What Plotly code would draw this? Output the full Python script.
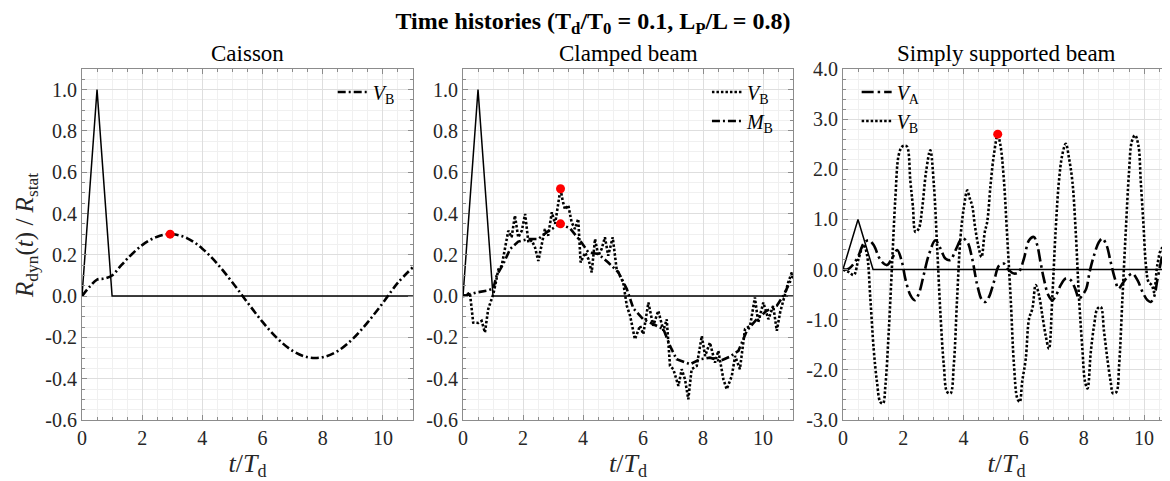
import plotly.graph_objects as go

# load pulse (triangle) shared by all panels
load_t = [0, 0.5, 1.0, 11.0]
load_y = [0, 1.0, 0, 0]

# Caisson: V_B
caisson_t = [0, 0.25, 0.5, 0.75, 1.0, 1.25, 1.5, 2.0, 2.5, 3.0, 3.5, 4.0, 4.5, 5.0, 5.5,
             6.0, 6.5, 7.0, 7.5, 8.0, 8.5, 9.0, 9.5, 10.0, 10.5, 11.0]
caisson_vb = [0, 0.045, 0.08, 0.085, 0.10, 0.14, 0.18, 0.247, 0.288, 0.300, 0.280, 0.230, 0.156,
              0.066, -0.031, -0.125, -0.206, -0.265, -0.296, -0.296, -0.266, -0.207, -0.126,
              -0.033, 0.065, 0.14]
caisson_peak = ([2.93], [0.30])

# Clamped beam: V_B
clamped_vb_t = [0, 0.23, 0.34, 0.51, 0.62, 0.73, 0.84, 1.01, 1.07, 1.18, 1.29, 1.4, 1.51, 1.62,
                1.73, 1.84, 1.96, 2.07, 2.18, 2.29, 2.4, 2.51, 2.62, 2.73, 2.84, 2.96, 3.07,
                3.25, 3.32, 3.4, 3.51, 3.62, 3.73, 3.84, 3.92, 4.07, 4.18, 4.29, 4.4, 4.51,
                4.62, 4.73, 4.84, 4.99, 5.12, 5.23, 5.34, 5.46, 5.57, 5.73, 5.9, 6.01, 6.18,
                6.34, 6.51, 6.68, 6.79, 6.9, 7.01, 7.18, 7.29, 7.4, 7.51, 7.62, 7.79, 7.96,
                8.07, 8.23, 8.4, 8.51, 8.68, 8.79, 8.96, 9.07, 9.23, 9.4, 9.57, 9.73, 9.84,
                10.01, 10.18, 10.34, 10.46, 10.57, 10.68, 10.84, 10.96, 11.0]
clamped_vb = [0, 0.015, -0.128, -0.13, -0.12, -0.176, -0.063, 0.01, 0.05, 0.13, 0.147, 0.236,
              0.317, 0.285, 0.39, 0.285, 0.317, 0.398, 0.26, 0.27, 0.236, 0.17, 0.244, 0.325,
              0.293, 0.406, 0.35, 0.52, 0.463, 0.42, 0.44, 0.358, 0.325, 0.374, 0.163, 0.21,
              0.18, 0.115, 0.277, 0.196, 0.228, 0.285, 0.196, 0.285, 0.131, 0.099, 0.066,
              -0.047, -0.095, -0.209, -0.144, -0.184, -0.031, -0.144, -0.071, -0.168, -0.112,
              -0.338, -0.354, -0.435, -0.354, -0.403, -0.5, -0.354, -0.338, -0.193, -0.29,
              -0.225, -0.322, -0.265, -0.403, -0.451, -0.387, -0.29, -0.354, -0.16, -0.144,
              -0.006, -0.128, -0.031, -0.112, -0.047, -0.168, -0.079, -0.015, 0.066, 0.115,
              0.09]

# Clamped beam: M_B
clamped_mb_t = [0, 0.46, 0.79, 1.01, 1.12, 1.34, 1.57, 1.84, 2.18, 2.51, 2.79, 3.23, 3.57, 3.9,
                4.18, 4.51, 4.84, 5.18, 5.46, 5.68, 6.01, 6.34, 6.68, 6.9, 7.12, 7.57, 7.9,
                8.23, 8.57, 8.9, 9.18, 9.46, 9.79, 10.12, 10.46, 10.68, 10.9, 11.0]
clamped_mb = [0, 0.018, 0.026, 0.037, 0.099, 0.155, 0.228, 0.264, 0.277, 0.277, 0.309, 0.35,
              0.328, 0.269, 0.212, 0.204, 0.163, 0.115, 0.034, -0.06, -0.112, -0.136, -0.16,
              -0.241, -0.306, -0.33, -0.306, -0.298, -0.314, -0.293, -0.265, -0.168, -0.112,
              -0.071, -0.047, 0.002, 0.074, 0.099]
clamped_peaks = ([3.25, 3.25], [0.52, 0.35])

# Simply supported beam: V_A
simple_va_t = [0, 0.2, 0.47, 0.69, 0.85, 1.02, 1.19, 1.3, 1.46, 1.63, 1.8, 1.96, 2.07, 2.24,
               2.38, 2.52, 2.68, 2.85, 3.07, 3.24, 3.4, 3.57, 3.74, 3.96, 4.13, 4.29, 4.46,
               4.62, 4.73, 4.85, 5.01, 5.18, 5.34, 5.51, 5.68, 5.84, 6.01, 6.18, 6.34, 6.45,
               6.56, 6.67, 6.82, 6.95, 7.08, 7.23, 7.4, 7.56, 7.71, 7.84, 7.95, 8.08, 8.19,
               8.34, 8.5, 8.61, 8.75, 8.89, 9.03, 9.15, 9.28, 9.45, 9.61, 9.78, 9.95, 10.11,
               10.22, 10.33, 10.44, 10.58, 10.69, 10.78, 10.86]
simple_va = [0, 0.02, 0.22, 0.52, 0.585, 0.49, 0.25, 0.15, 0.09, 0.22, 0.39, 0.15, -0.18,
             -0.51, -0.61, -0.48, -0.11, 0.29, 0.585, 0.42, 0.22, 0.19, 0.39, 0.62, 0.55, 0.22,
             -0.31, -0.61, -0.645, -0.545, -0.25, 0.08, 0.12, -0.01, -0.08, -0.05, 0.22, 0.585,
             0.65, 0.49, 0.15, -0.18, -0.51, -0.61, -0.51, -0.31, -0.18, -0.21, -0.38, -0.58,
             -0.51, -0.38, -0.05, 0.29, 0.55, 0.62, 0.49, 0.15, -0.18, -0.38, -0.28, -0.15,
             -0.08, -0.21, -0.45, -0.61, -0.645, -0.545, -0.21, 0.22, 0.55, 0.67, 0.68]

# Simply supported beam: V_B
simple_vb_t = [0, 0.2, 0.36, 0.52, 0.69, 0.8, 0.91, 1.02, 1.13, 1.24, 1.33, 1.41, 1.52, 1.63,
               1.74, 1.85, 1.96, 2.05, 2.13, 2.24, 2.32, 2.41, 2.52, 2.63, 2.76, 2.9, 3.02,
               3.13, 3.24, 3.35, 3.46, 3.57, 3.68, 3.79, 3.9, 4.01, 4.13, 4.21, 4.29, 4.38,
               4.49, 4.6, 4.71, 4.79, 4.9, 5.01, 5.14, 5.23, 5.34, 5.45, 5.57, 5.68, 5.79,
               5.87, 5.95, 6.07, 6.18, 6.29, 6.4, 6.51, 6.62, 6.73, 6.84, 6.95, 7.06, 7.17,
               7.28, 7.4, 7.51, 7.62, 7.73, 7.84, 7.95, 8.04, 8.12, 8.23, 8.34, 8.45, 8.56,
               8.67, 8.78, 8.89, 8.97, 9.08, 9.17, 9.28, 9.39, 9.5, 9.59, 9.7, 9.81, 9.89,
               9.98, 10.06, 10.15, 10.26, 10.33, 10.44, 10.58, 10.69, 10.78, 10.86]
simple_vb = [0, -0.05, -0.11, 0.22, 0.49, 0.29, -0.58, -1.58, -2.24, -2.64, -2.67, -2.31,
             -1.24, 0.09, 1.42, 2.28, 2.45, 2.47, 2.45, 1.75, 1.28, 0.75, 0.82, 1.22, 1.95,
             2.38, 1.68, 0.42, -0.91, -1.91, -2.44, -2.47, -1.91, -0.58, 0.62, 1.22, 1.58,
             1.42, 1.28, 0.88, 0.49, 0.25, 0.75, 0.95, 1.68, 2.28, 2.68, 2.48, 1.82, 0.7,
             -0.58, -1.91, -2.57, -2.64, -2.24, -1.78, -0.98, -0.78, -0.31, -0.51, -0.91,
             -1.31, -1.58, -0.58, 0.75, 1.75, 2.28, 2.51, 2.21, 1.75, 0.75, -0.58, -1.58,
             -2.24, -2.37, -1.64, -1.11, -0.78, -0.745, -1.24, -1.78, -2.24, -2.47, -2.44,
             -1.91, -0.58, 0.75, 1.95, 2.55, 2.68, 2.48, 1.75, 0.88, 0.09, -0.25, -0.31,
             -0.45, 0.09, 0.42, 0.45, 0.35, 0.35]
simple_peaks = ([5.14, 10.86], [2.70, 0.68])

# tick labels
x_ticks = [0, 2, 4, 6, 8, 10]
y_ticks_small = [-0.6, -0.4, -0.2, 0.0, 0.2, 0.4, 0.6, 0.8, 1.0]
y_ticks_small_text = ["-0.6", "-0.4", "-0.2", "0.0", "0.2", "0.4", "0.6", "0.8", "1.0"]
y_ticks_big = [-3, -2, -1, 0, 1, 2, 3, 4]
y_ticks_big_text = ["-3.0", "-2.0", "-1.0", "0.0", "1.0", "2.0", "3.0", "4.0"]

FONT = "Liberation Serif"
VB = "<i>V</i><sub>B</sub>"
VA = "<i>V</i><sub>A</sub>"
MB = "<i>M</i><sub>B</sub>"
DOT = "2.5px,2px"
DASHDOT = "8px,3px,2px,3px"
LONGDASHDOT = "12px,4px,2.5px,4px"

fig = go.Figure()


def add_panel(n, traces, peaks):
    xa = "x" if n == 1 else f"x{n}"
    ya = "y" if n == 1 else f"y{n}"
    lg = "legend" if n == 1 else f"legend{n}"
    fig.add_trace(go.Scatter(x=load_t, y=load_y, mode="lines", xaxis=xa, yaxis=ya,
                             line=dict(color="black", width=1.5), showlegend=False))
    for t, y, name, dash, shape in traces:
        fig.add_trace(go.Scatter(x=t, y=y, mode="lines", name=name, xaxis=xa, yaxis=ya, legend=lg,
                                 line=dict(color="black", width=2.6, dash=dash, shape=shape)))
    fig.add_trace(go.Scatter(x=peaks[0], y=peaks[1], mode="markers", xaxis=xa, yaxis=ya,
                             marker=dict(color="red", size=9), showlegend=False))


add_panel(1, [(caisson_t, caisson_vb, VB, DASHDOT, "spline")], caisson_peak)
add_panel(2, [(clamped_vb_t, clamped_vb, VB, DOT, "linear"),
              (clamped_mb_t, clamped_mb, MB, DASHDOT, "linear")], clamped_peaks)
add_panel(3, [(simple_va_t, simple_va, VA, LONGDASHDOT, "spline"),
              (simple_vb_t, simple_vb, VB, DOT, "spline")], simple_peaks)

# the page is drawn with an 8px body margin, so the margins are shifted to match
domains = [[0, 0.3042], [0.3502, 0.6535], [0.6994, 1.0]]
x_ranges = [[0, 11], [0, 11], [0, 10.86]]
axis_common = dict(showline=True, linecolor="#8c8c8c", linewidth=1, ticks="inside", ticklen=5,
                   tickcolor="#8c8c8c", showgrid=True, gridcolor="#dedede", gridwidth=1,
                   zeroline=False, automargin=False,
                   tickfont=dict(family=FONT, size=20, color="#262626"))

layout_axes = {}
for i in range(3):
    sx = "xaxis" if i == 0 else f"xaxis{i + 1}"
    sy = "yaxis" if i == 0 else f"yaxis{i + 1}"
    yname = "y" if i == 0 else f"y{i + 1}"
    xname = "x" if i == 0 else f"x{i + 1}"
    layout_axes[sx] = dict(axis_common, domain=domains[i], anchor=yname, range=x_ranges[i],
                           tickvals=x_ticks, mirror="ticks",
                           minor=dict(dtick=0.5, tick0=0, showgrid=True, gridcolor="#f0f0f0",
                                      ticks="inside", ticklen=3, tickcolor="#8c8c8c"),
                           title=dict(text="<i>t</i>/<i>T</i><sub>d</sub>", standoff=4,
                                      font=dict(family=FONT, size=26, color="#262626")))
    if i < 2:
        layout_axes[sy] = dict(axis_common, anchor=xname, range=[-0.6, 1.1], mirror="ticks",
                               tickvals=y_ticks_small, ticktext=y_ticks_small_text,
                               minor=dict(dtick=0.05, tick0=0, showgrid=True, gridcolor="#f0f0f0",
                                          ticks="inside", ticklen=3, tickcolor="#8c8c8c"))
    else:
        layout_axes[sy] = dict(axis_common, anchor=xname, range=[-3, 4], mirror=False,
                               tickvals=y_ticks_big, ticktext=y_ticks_big_text,
                               minor=dict(dtick=0.2, tick0=0, showgrid=True, gridcolor="#f0f0f0",
                                          ticks="inside", ticklen=3, tickcolor="#8c8c8c"))

legend_common = dict(bgcolor="rgba(0,0,0,0)", borderwidth=0, tracegroupgap=0,
                     font=dict(family=FONT, size=20, color="black"))

subtitles = ["Caisson", "Clamped beam", "Simply supported beam"]
annotations = []
for i, s in enumerate(subtitles):
    annotations.append(dict(text=s, xref="paper", yref="paper", x=sum(domains[i]) / 2, y=1.045,
                            xanchor="center", yanchor="middle", showarrow=False,
                            font=dict(family=FONT, size=23, color="black")))
# y axis label, placed as text so it can sit a little above the centre like the reference
annotations.append(dict(text="<i>R</i><sub>dyn</sub>(<i>t</i>) / <i>R</i><sub>stat</sub>",
                        xref="paper", yref="paper", x=-0.0515, y=0.527, textangle=-90,
                        xanchor="center", yanchor="middle", showarrow=False,
                        font=dict(family=FONT, size=25, color="#262626")))

fig.update_layout(
    width=1170, height=481,
    margin=dict(l=74, r=8, t=61, b=69),
    paper_bgcolor="white", plot_bgcolor="white",
    title=dict(text="<b>Time histories (T<sub>d</sub>/T<sub>0</sub> = 0.1, L<sub>P</sub>/L = 0.8)</b>",
               x=0.5, xref="container", xanchor="center", y=0.973, yanchor="middle",
               font=dict(family=FONT, size=24, color="black")),
    legend=dict(legend_common, x=0.292, xanchor="right", y=0.99, yanchor="top"),
    legend2=dict(legend_common, x=0.6415, xanchor="right", y=0.99, yanchor="top"),
    legend3=dict(legend_common, x=0.712, xanchor="left", y=0.99, yanchor="top"),
    annotations=annotations,
    showlegend=True,
    **layout_axes,
)

fig.write_html("out.html")
